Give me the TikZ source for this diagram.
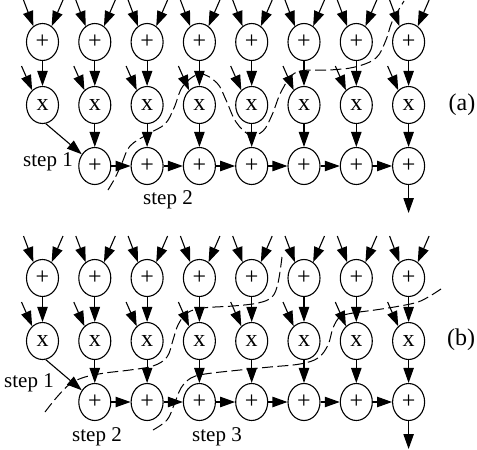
\documentclass[tikz,border=0pt]{standalone}
\usepackage{fontspec}
\setmainfont{Liberation Serif}
\usetikzlibrary{arrows.meta,shapes.geometric}
\begin{document}
\begin{tikzpicture}[x=0.5pt,y=-0.5pt,
  op/.style={draw, ellipse, minimum width=16pt, minimum height=18.5pt, inner sep=0pt, line width=0.55pt, font=\fontsize{12}{12}\selectfont},
  arr/.style={-{Triangle[length=7.5pt,width=5.2pt]}, line width=0.55pt},
  cut/.style={dash pattern=on 5.5pt off 2.2pt, line width=0.5pt},
  lbl/.style={font=\fontsize{10.5}{12}\selectfont, inner sep=0pt},
  tag/.style={font=\fontsize{12}{14}\selectfont, inner sep=0pt}]
\useasboundingbox (0,0) rectangle (477,450);
\foreach \p/\oy in {a/0,b/236} {
  \foreach \i in {1,...,8} {
    \pgfmathsetmacro\cx{42.5+52.3*(\i-1)}
    \node[op] (\p p\i) at (\cx,42+\oy) {+};
    \node[op] (\p x\i) at (\cx,105+\oy) {x};
    \coordinate (\p l\i) at (\cx-19,\oy);
    \coordinate (\p r\i) at (\cx+20.5,\oy);
    \coordinate (\p s\i) at (\cx-21,66+\oy);
    \draw[arr] (\p l\i) -- (\p p\i.120);
    \draw[arr] (\p r\i) -- (\p p\i.60);
    \draw[arr] (\p s\i) -- (\p x\i.125);
    \draw[arr] (\p p\i) -- (\p x\i);
  }
  \foreach \i in {2,...,8} {
    \pgfmathsetmacro\cx{42.5+52.3*(\i-1)}
    \node[op] (\p b\i) at (\cx,166+\oy) {+};
    \draw[arr] (\p x\i) -- (\p b\i);
  }
  \foreach \i/\j in {2/3,3/4,4/5,5/6,6/7,7/8} {
    \draw[arr] (\p b\i) -- (\p b\j);
  }
  \draw[arr] (\p x1.-80) -- (\p b2.138);
  \coordinate (\p out) at (408.6,213+\oy);
  \draw[arr] (\p b8) -- (\p out);
}
% labels
\node[lbl] (s1a) at (48,162) {step 1};
\node[lbl] (s2a) at (168,200) {step 2};
\node[tag] (ta) at (462,105) {(a)};
\node[lbl] (s1b) at (29,383) {step 1};
\node[lbl] (s2b) at (97,437) {step 2};
\node[lbl] (s3b) at (217,437) {step 3};
\node[tag] (tb) at (461,340) {(b)};
% cut lines (a)
\draw[cut] plot[smooth, tension=0.6] coordinates {(108,190) (115,178) (122,163) (130,146) (148,134) (165,124) (174,108) (183,86) (200,74) (217,83) (226,100) (236,122) (250,135) (263,131) (272,115) (282,90) (297,72) (330,70) (355,67) (376,58) (386,40) (392,22) (404,1)};
% cut lines (b)
\draw[cut] plot[smooth, tension=0.6] coordinates {(45,412) (57,397) (70,384) (85,377) (105,373) (130,370) (153,366) (167,357) (173,340) (178,325) (187,313) (203,308) (233,306) (258,303) (272,297) (278,283) (282,257)};
\draw[cut] plot[smooth, tension=0.6] coordinates {(153,430) (167,420) (174,405) (181,388) (191,378) (205,374) (240,370) (270,367) (300,364) (318,358) (328,345) (333,328) (340,317) (353,313) (375,310) (400,306) (418,302) (430,296) (441,289)};
\end{tikzpicture}
\end{document}
